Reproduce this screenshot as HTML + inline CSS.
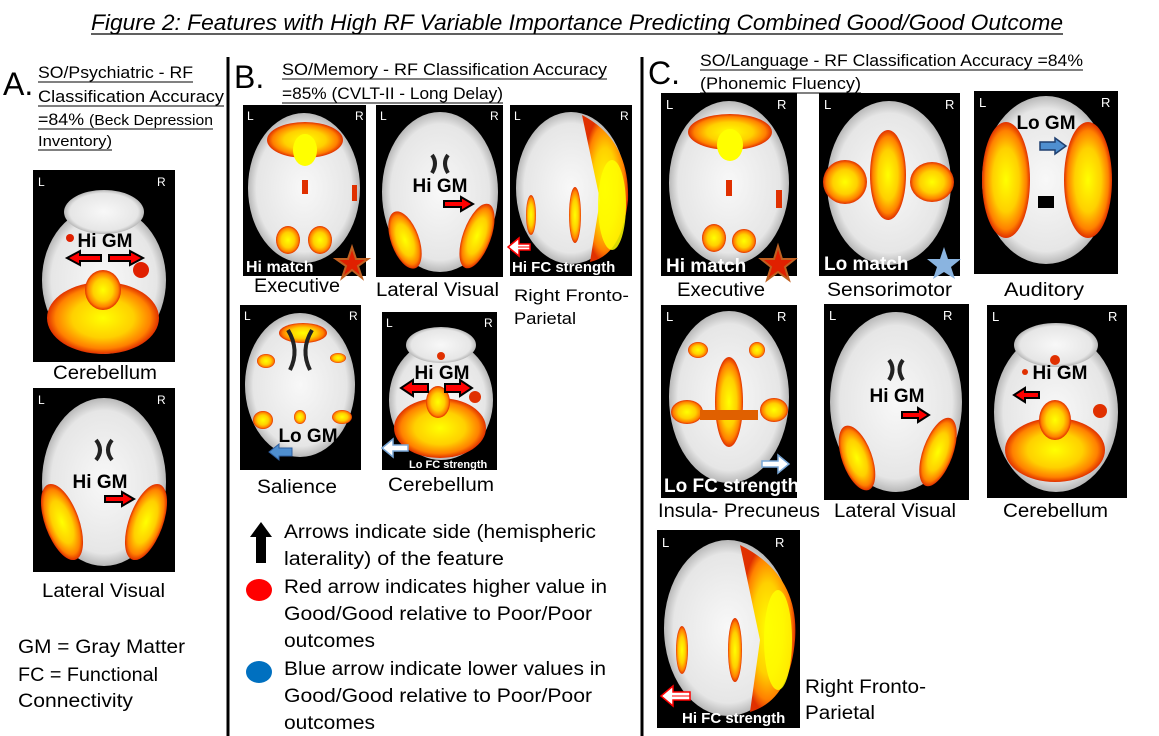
<!DOCTYPE html>
<html><head><meta charset="utf-8"><style>
html,body{margin:0;padding:0;background:#fff;}
svg{display:block;font-family:"Liberation Sans",sans-serif;}
</style></head><body>
<svg width="1159" height="736" viewBox="0 0 1159 736" xmlns="http://www.w3.org/2000/svg">
<defs>
<radialGradient id="hot" cx="50%" cy="50%" r="50%">
<stop offset="0" stop-color="#ffff00"/><stop offset="0.55" stop-color="#ffd000"/><stop offset="0.85" stop-color="#ff8000"/><stop offset="1" stop-color="#e03000"/></radialGradient>
<radialGradient id="brain" cx="50%" cy="50%" r="50%">
<stop offset="0" stop-color="#f8f8f8"/><stop offset="0.85" stop-color="#e6e6e6"/><stop offset="1" stop-color="#b8b8b8"/></radialGradient>
</defs>

<!-- Title -->
<text x="577" y="30" font-size="22" font-style="italic" text-anchor="middle" textLength="972" lengthAdjust="spacingAndGlyphs">Figure 2: Features with High RF Variable Importance Predicting Combined Good/Good Outcome</text>
<line x1="91" y1="34" x2="1063" y2="34" stroke="#000" stroke-width="1.3"/>

<!-- Dividers -->
<line x1="228" y1="57" x2="228" y2="736" stroke="#000" stroke-width="3"/>
<line x1="642" y1="57" x2="642" y2="736" stroke="#000" stroke-width="3"/>

<g font-size="17" fill="#000">
<text x="3" y="95" font-size="32">A.</text>
<text x="38" y="78" textLength="155" lengthAdjust="spacingAndGlyphs">SO/Psychiatric - RF</text>
<line x1="38" y1="82" x2="193" y2="82" stroke="#000"/>
<text x="38" y="102" textLength="186" lengthAdjust="spacingAndGlyphs">Classification Accuracy</text>
<line x1="38" y1="106" x2="224" y2="106" stroke="#000"/>
<text x="38" y="125" textLength="175" lengthAdjust="spacingAndGlyphs">=84% <tspan font-size="15">(Beck Depression</tspan></text>
<line x1="38" y1="129" x2="213" y2="129" stroke="#000"/>
<text x="38" y="146" font-size="15" textLength="74" lengthAdjust="spacingAndGlyphs">Inventory)</text>
<line x1="38" y1="150" x2="112" y2="150" stroke="#000"/>

<text x="234" y="88" font-size="32">B.</text>
<text x="282" y="75" textLength="325" lengthAdjust="spacingAndGlyphs">SO/Memory - RF Classification Accuracy</text>
<line x1="282" y1="79" x2="607" y2="79" stroke="#000"/>
<text x="282" y="99" textLength="221" lengthAdjust="spacingAndGlyphs">=85% (CVLT-II - Long Delay)</text>
<line x1="282" y1="103" x2="503" y2="103" stroke="#000"/>

<text x="648" y="84" font-size="32">C.</text>
<text x="700" y="66" textLength="383" lengthAdjust="spacingAndGlyphs">SO/Language - RF Classification Accuracy =84%</text>
<line x1="700" y1="70" x2="1083" y2="70" stroke="#000"/>
<text x="700" y="89" textLength="161" lengthAdjust="spacingAndGlyphs">(Phonemic Fluency)</text>
<line x1="700" y1="93" x2="861" y2="93" stroke="#000"/>
</g>

<!-- A1 Cerebellum -->
<rect x="33" y="170" width="142" height="192" fill="#000"/>
<ellipse cx="104" cy="280" rx="62" ry="74" fill="url(#brain)"/>
<ellipse cx="104" cy="212" rx="40" ry="22" fill="url(#brain)"/>
<circle cx="70" cy="238" r="4" fill="#e02000"/><circle cx="141" cy="270" r="8" fill="#e02000"/>
<ellipse cx="103" cy="318" rx="56" ry="36" fill="url(#hot)"/>
<ellipse cx="103" cy="290" rx="18" ry="20" fill="url(#hot)"/>
<text x="38" y="186" font-size="12" fill="#fff">L</text><text x="157" y="186" font-size="12" fill="#fff">R</text>
<text x="105" y="247" font-size="19" font-weight="bold" text-anchor="middle">Hi GM</text>
<path d="M101 255 H80 V251 L67 258 L80 265 V261 H101 Z" fill="#f00" stroke="#000" stroke-width="2"/>
<path d="M109 255 H130 V251 L143 258 L130 265 V261 H109 Z" fill="#f00" stroke="#000" stroke-width="2"/>

<!-- A2 Lateral Visual -->
<rect x="33" y="388" width="142" height="184" fill="#000"/>
<ellipse cx="104" cy="482" rx="62" ry="84" fill="url(#brain)"/>
<ellipse cx="62" cy="522" rx="17" ry="40" fill="url(#hot)" transform="rotate(-20 62 522)"/>
<ellipse cx="146" cy="522" rx="17" ry="40" fill="url(#hot)" transform="rotate(20 146 522)"/>
<path d="M96 440 q8 10 0 20 M112 440 q-8 10 0 20" stroke="#222" stroke-width="4" fill="none"/>
<text x="38" y="404" font-size="12" fill="#fff">L</text><text x="157" y="404" font-size="12" fill="#fff">R</text>
<text x="100" y="488" font-size="19" font-weight="bold" text-anchor="middle">Hi GM</text>
<path d="M105 496 H122 V492 L134 499 L122 506 V502 H105 Z" fill="#f00" stroke="#000" stroke-width="2"/>

<!-- B Executive -->
<rect x="243" y="105" width="123" height="171" fill="#000"/>
<ellipse cx="304" cy="188" rx="56" ry="75" fill="url(#brain)"/>
<ellipse cx="305" cy="140" rx="38" ry="18" fill="url(#hot)"/>
<ellipse cx="305" cy="150" rx="12" ry="16" fill="#ffff00"/>
<ellipse cx="288" cy="240" rx="12" ry="14" fill="url(#hot)"/><ellipse cx="320" cy="240" rx="12" ry="14" fill="url(#hot)"/>
<rect x="302" y="180" width="6" height="14" fill="#e03000"/><rect x="352" y="185" width="5" height="16" fill="#e03000"/>
<text x="247" y="120" font-size="12" fill="#fff">L</text><text x="355" y="120" font-size="12" fill="#fff">R</text>
<text x="246" y="272" font-size="16" font-weight="bold" fill="#fff">Hi match</text>
<polygon points="352,247 356,259 368,259 358,266 362,278 352,270 342,278 346,266 336,259 348,259" fill="#e02000" stroke="#c06020" stroke-width="2"/>

<!-- B Lateral Visual -->
<rect x="376" y="105" width="127" height="172" fill="#000"/>
<ellipse cx="440" cy="192" rx="58" ry="80" fill="url(#brain)"/>
<path d="M432 155 q6 8 0 18 M448 155 q-6 8 0 18" stroke="#222" stroke-width="4" fill="none"/>
<ellipse cx="405" cy="240" rx="14" ry="30" fill="url(#hot)" transform="rotate(-20 405 240)"/>
<ellipse cx="477" cy="236" rx="14" ry="34" fill="url(#hot)" transform="rotate(20 477 236)"/>
<text x="380" y="120" font-size="12" fill="#fff">L</text><text x="490" y="120" font-size="12" fill="#fff">R</text>
<text x="440" y="192" font-size="19" font-weight="bold" text-anchor="middle">Hi GM</text>
<path d="M444 201 H461 V197 L473 204 L461 211 V207 H444 Z" fill="#f00" stroke="#000" stroke-width="2"/>

<!-- B Right Fronto-Parietal -->
<rect x="510" y="105" width="122" height="171" fill="#000"/>
<ellipse cx="571" cy="188" rx="55" ry="76" fill="url(#brain)"/>
<path d="M582 115 Q630 140 628 200 Q622 255 590 262 L600 200 Z" fill="url(#hot)"/>
<ellipse cx="612" cy="205" rx="14" ry="45" fill="#ffff00" opacity="0.85"/>
<ellipse cx="575" cy="215" rx="6" ry="28" fill="url(#hot)"/>
<ellipse cx="531" cy="215" rx="5" ry="20" fill="url(#hot)"/>
<text x="514" y="120" font-size="12" fill="#fff">L</text><text x="620" y="120" font-size="12" fill="#fff">R</text>
<text x="512" y="272" font-size="15" font-weight="bold" fill="#fff">Hi FC strength</text>
<path d="M530 244 H519 V238 L508 247 L519 256 V250 H530 Z" fill="#fff" stroke="#f00" stroke-width="1.5"/>
<line x1="518" y1="247" x2="530" y2="247" stroke="#f00"/>

<!-- B Salience -->
<rect x="240" y="305" width="121" height="165" fill="#000"/>
<ellipse cx="300" cy="385" rx="55" ry="72" fill="url(#brain)"/>
<ellipse cx="303" cy="333" rx="24" ry="10" fill="url(#hot)"/>
<ellipse cx="266" cy="361" rx="9" ry="7" fill="url(#hot)"/><ellipse cx="338" cy="358" rx="8" ry="5" fill="url(#hot)"/>
<ellipse cx="263" cy="420" rx="10" ry="9" fill="url(#hot)"/><ellipse cx="342" cy="417" rx="10" ry="7" fill="url(#hot)"/>
<ellipse cx="300" cy="417" rx="6" ry="7" fill="url(#hot)"/>
<path d="M290 370 q10 -20 -2 -40 M310 370 q-10 -20 2 -40" stroke="#222" stroke-width="4" fill="none"/>
<text x="244" y="320" font-size="12" fill="#fff">L</text><text x="349" y="320" font-size="12" fill="#fff">R</text>
<text x="308" y="442" font-size="19" font-weight="bold" text-anchor="middle">Lo GM</text>
<path d="M292 448 H279 V444 L269 452 L279 460 V456 H292 Z" fill="#4f8fd0" stroke="#2f5f9f" stroke-width="1"/>

<!-- B Cerebellum -->
<rect x="382" y="312" width="115" height="158" fill="#000"/>
<ellipse cx="441" cy="400" rx="52" ry="60" fill="url(#brain)"/>
<ellipse cx="441" cy="345" rx="35" ry="18" fill="url(#brain)"/>
<circle cx="441" cy="356" r="4" fill="#e03000"/><circle cx="475" cy="397" r="6" fill="#e03000"/>
<ellipse cx="440" cy="428" rx="46" ry="30" fill="url(#hot)"/>
<ellipse cx="438" cy="402" rx="12" ry="16" fill="url(#hot)"/>
<text x="386" y="327" font-size="12" fill="#fff">L</text><text x="484" y="327" font-size="12" fill="#fff">R</text>
<text x="442" y="379" font-size="19" font-weight="bold" text-anchor="middle">Hi GM</text>
<path d="M428 384 H413 V380 L401 388 L413 396 V392 H428 Z" fill="#f00" stroke="#000" stroke-width="2"/>
<path d="M445 384 H460 V380 L472 388 L460 396 V392 H445 Z" fill="#f00" stroke="#000" stroke-width="2"/>
<path d="M408 445 H393 V439 L382 448 L393 457 V451 H408 Z" fill="#fff" stroke="#7aa8d8" stroke-width="1.5"/>
<text x="409" y="468" font-size="11" font-weight="bold" fill="#fff">Lo FC strength</text>

<!-- C Executive -->
<rect x="661" y="93" width="136" height="183" fill="#000"/>
<ellipse cx="729" cy="183" rx="60" ry="82" fill="url(#brain)"/>
<ellipse cx="730" cy="132" rx="42" ry="18" fill="url(#hot)"/>
<ellipse cx="730" cy="145" rx="13" ry="16" fill="#ffff00"/>
<ellipse cx="714" cy="238" rx="12" ry="14" fill="url(#hot)"/><ellipse cx="744" cy="241" rx="12" ry="12" fill="url(#hot)"/>
<rect x="726" y="180" width="6" height="16" fill="#e03000"/><rect x="776" y="190" width="6" height="18" fill="#e03000"/>
<text x="666" y="109" font-size="13" fill="#fff">L</text><text x="777" y="109" font-size="13" fill="#fff">R</text>
<text x="666" y="272" font-size="19" font-weight="bold" fill="#fff">Hi match</text>
<polygon points="778,246 782,259 795,259 785,267 789,280 778,272 767,280 771,267 761,259 774,259" fill="#e02000" stroke="#c06020" stroke-width="2"/>

<!-- C Sensorimotor -->
<rect x="819" y="93" width="141" height="183" fill="#000"/>
<ellipse cx="889" cy="183" rx="62" ry="82" fill="url(#brain)"/>
<ellipse cx="845" cy="182" rx="22" ry="22" fill="url(#hot)"/>
<ellipse cx="932" cy="182" rx="22" ry="20" fill="url(#hot)"/>
<ellipse cx="888" cy="175" rx="18" ry="45" fill="url(#hot)"/>
<text x="824" y="109" font-size="13" fill="#fff">L</text><text x="945" y="109" font-size="13" fill="#fff">R</text>
<text x="824" y="270" font-size="19" font-weight="bold" fill="#fff">Lo match</text>
<polygon points="944,247 948,259 961,259 951,267 955,279 944,272 933,279 937,267 927,259 940,259" fill="#8ab4e0"/>

<!-- C Auditory -->
<rect x="974" y="91" width="144" height="183" fill="#000"/>
<ellipse cx="1046" cy="180" rx="64" ry="84" fill="url(#brain)"/>
<ellipse cx="1006" cy="180" rx="24" ry="58" fill="url(#hot)"/>
<ellipse cx="1088" cy="180" rx="24" ry="58" fill="url(#hot)"/>
<rect x="1038" y="196" width="16" height="12" fill="#000"/>
<text x="979" y="107" font-size="13" fill="#fff">L</text><text x="1101" y="107" font-size="13" fill="#fff">R</text>
<text x="1046" y="129" font-size="19" font-weight="bold" text-anchor="middle">Lo GM</text>
<path d="M1040 142 H1055 V138 L1066 146 L1055 154 V150 H1040 Z" fill="#4f8fd0" stroke="#1f3f6f" stroke-width="1.5"/>

<!-- C Insula-Precuneus -->
<rect x="661" y="305" width="136" height="193" fill="#000"/>
<ellipse cx="729" cy="397" rx="60" ry="86" fill="url(#brain)"/>
<ellipse cx="698" cy="350" rx="10" ry="8" fill="url(#hot)"/><ellipse cx="757" cy="350" rx="8" ry="8" fill="url(#hot)"/>
<ellipse cx="687" cy="412" rx="16" ry="12" fill="url(#hot)"/><ellipse cx="774" cy="410" rx="14" ry="12" fill="url(#hot)"/>
<ellipse cx="729" cy="402" rx="14" ry="45" fill="url(#hot)"/>
<rect x="700" y="410" width="58" height="10" fill="#e06000"/>
<text x="666" y="321" font-size="13" fill="#fff">L</text><text x="777" y="321" font-size="13" fill="#fff">R</text>
<text x="664" y="492" font-size="19" font-weight="bold" fill="#fff">Lo FC strength</text>
<path d="M762 461 H778 V455 L789 464 L778 473 V467 H762 Z" fill="#fff" stroke="#7aa8d8" stroke-width="1.5"/>

<!-- C Lateral Visual -->
<rect x="824" y="304" width="145" height="196" fill="#000"/>
<ellipse cx="896" cy="402" rx="66" ry="90" fill="url(#brain)"/>
<path d="M889 360 q7 9 0 20 M903 360 q-7 9 0 20" stroke="#222" stroke-width="4" fill="none"/>
<ellipse cx="857" cy="458" rx="15" ry="34" fill="url(#hot)" transform="rotate(-20 857 458)"/>
<ellipse cx="938" cy="452" rx="15" ry="36" fill="url(#hot)" transform="rotate(20 938 452)"/>
<text x="829" y="320" font-size="13" fill="#fff">L</text><text x="943" y="320" font-size="13" fill="#fff">R</text>
<text x="897" y="402" font-size="19" font-weight="bold" text-anchor="middle">Hi GM</text>
<path d="M902 412 H918 V408 L929 415 L918 422 V418 H902 Z" fill="#f00" stroke="#000" stroke-width="2"/>

<!-- C Cerebellum -->
<rect x="987" y="305" width="140" height="193" fill="#000"/>
<ellipse cx="1056" cy="412" rx="62" ry="80" fill="url(#brain)"/>
<ellipse cx="1056" cy="345" rx="42" ry="22" fill="url(#brain)"/>
<circle cx="1055" cy="360" r="5" fill="#e03000"/><circle cx="1100" cy="411" r="7" fill="#e03000"/><circle cx="1025" cy="372" r="3" fill="#e03000"/>
<ellipse cx="1055" cy="450" rx="50" ry="32" fill="url(#hot)"/>
<ellipse cx="1055" cy="420" rx="16" ry="20" fill="url(#hot)"/>
<text x="992" y="321" font-size="13" fill="#fff">L</text><text x="1108" y="321" font-size="13" fill="#fff">R</text>
<text x="1060" y="379" font-size="19" font-weight="bold" text-anchor="middle">Hi GM</text>
<path d="M1039 392 H1025 V388 L1014 395 L1025 402 V398 H1039 Z" fill="#f00" stroke="#000" stroke-width="2"/>

<!-- C Right Fronto-Parietal -->
<rect x="657" y="530" width="143" height="198" fill="#000"/>
<ellipse cx="728" cy="628" rx="64" ry="88" fill="url(#brain)"/>
<path d="M740 545 Q800 575 795 640 Q790 700 750 712 L760 640 Z" fill="url(#hot)"/>
<ellipse cx="778" cy="640" rx="14" ry="50" fill="#ffff00" opacity="0.85"/>
<ellipse cx="735" cy="650" rx="7" ry="32" fill="url(#hot)"/>
<ellipse cx="682" cy="650" rx="6" ry="24" fill="url(#hot)"/>
<text x="662" y="547" font-size="13" fill="#fff">L</text><text x="775" y="547" font-size="13" fill="#fff">R</text>
<text x="682" y="723" font-size="15" font-weight="bold" fill="#fff">Hi FC strength</text>
<path d="M690 692 H673 V686 L661 696 L673 706 V700 H690 Z" fill="#fff" stroke="#f00" stroke-width="1.5"/>
<line x1="672" y1="696" x2="690" y2="696" stroke="#f00"/>

<!-- Labels -->
<g font-size="19" fill="#000">
<text x="53" y="379" textLength="104" lengthAdjust="spacingAndGlyphs">Cerebellum</text>
<text x="42" y="597" textLength="123" lengthAdjust="spacingAndGlyphs">Lateral Visual</text>
<text x="18" y="653" textLength="167" lengthAdjust="spacingAndGlyphs">GM = Gray Matter</text>
<text x="18" y="681" textLength="140" lengthAdjust="spacingAndGlyphs">FC = Functional</text>
<text x="18" y="707" textLength="115" lengthAdjust="spacingAndGlyphs">Connectivity</text>

<text x="254" y="292" textLength="86" lengthAdjust="spacingAndGlyphs">Executive</text>
<text x="376" y="296" textLength="123" lengthAdjust="spacingAndGlyphs">Lateral Visual</text>
<text x="514" y="301" font-size="17" textLength="115" lengthAdjust="spacingAndGlyphs">Right Fronto-</text>
<text x="514" y="324" font-size="17" textLength="62" lengthAdjust="spacingAndGlyphs">Parietal</text>
<text x="257" y="493" textLength="80" lengthAdjust="spacingAndGlyphs">Salience</text>
<text x="388" y="491" textLength="106" lengthAdjust="spacingAndGlyphs">Cerebellum</text>

<text x="677" y="296" textLength="88" lengthAdjust="spacingAndGlyphs">Executive</text>
<text x="827" y="296" textLength="125" lengthAdjust="spacingAndGlyphs">Sensorimotor</text>
<text x="1004" y="296" textLength="80" lengthAdjust="spacingAndGlyphs">Auditory</text>
<text x="658" y="517" textLength="162" lengthAdjust="spacingAndGlyphs">Insula- Precuneus</text>
<text x="834" y="517" textLength="122" lengthAdjust="spacingAndGlyphs">Lateral Visual</text>
<text x="1003" y="517" textLength="105" lengthAdjust="spacingAndGlyphs">Cerebellum</text>
<text x="805" y="693" textLength="121" lengthAdjust="spacingAndGlyphs">Right Fronto-</text>
<text x="805" y="719" textLength="70" lengthAdjust="spacingAndGlyphs">Parietal</text>

<!-- Legend -->
<path d="M256 563 V537 H250 L261 522 L272 537 H266 V563 Z" fill="#000"/>
<ellipse cx="259" cy="590" rx="13" ry="11" fill="#f00"/>
<ellipse cx="259" cy="672" rx="13" ry="11" fill="#0070c0"/>
<text x="284" y="538" textLength="312" lengthAdjust="spacingAndGlyphs">Arrows indicate side (hemispheric</text>
<text x="284" y="565" textLength="220" lengthAdjust="spacingAndGlyphs">laterality) of the feature</text>
<text x="284" y="593" textLength="323" lengthAdjust="spacingAndGlyphs">Red arrow indicates higher value in</text>
<text x="284" y="620" textLength="308" lengthAdjust="spacingAndGlyphs">Good/Good relative to Poor/Poor</text>
<text x="284" y="647" textLength="91" lengthAdjust="spacingAndGlyphs">outcomes</text>
<text x="284" y="675" textLength="322" lengthAdjust="spacingAndGlyphs">Blue arrow indicate lower values in</text>
<text x="284" y="702" textLength="308" lengthAdjust="spacingAndGlyphs">Good/Good relative to Poor/Poor</text>
<text x="284" y="729" textLength="91" lengthAdjust="spacingAndGlyphs">outcomes</text>
</g>
</svg>
</body></html>
